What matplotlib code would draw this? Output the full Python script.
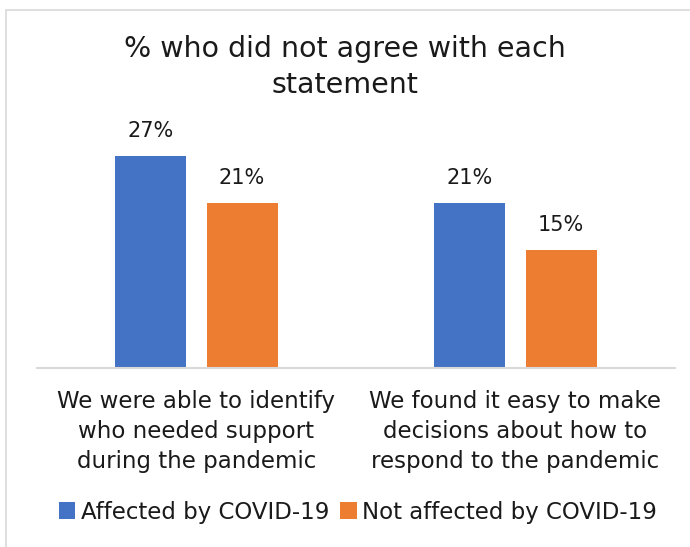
import matplotlib
matplotlib.use("Agg")
import matplotlib.pyplot as plt
from matplotlib.patches import Rectangle
import numpy as np

plt.rcParams["font.family"] = ["DejaVu Sans"]

categories = ["We were able to identify\nwho needed support\nduring the pandemic",
              "We found it easy to make\ndecisions about how to\nrespond to the pandemic"]
series_names = ["Affected by COVID-19", "Not affected by COVID-19"]
affected = [27, 21]
not_affected = [21, 15]

BLUE = "#4472C4"
ORANGE = "#ED7D31"
TXT = "#1a1a1a"

fig = plt.figure(figsize=(6.9, 5.47), dpi=100)
ax = fig.add_axes([37 / 690, 1 - 368 / 547, 638 / 690, 236 / 547])

x = np.arange(len(categories))
w = 0.223
off = 0.143
b1 = ax.bar(x - off, affected, w, color=BLUE, label=series_names[0])
b2 = ax.bar(x + off, not_affected, w, color=ORANGE, label=series_names[1])
for bars in (b1, b2):
    for r in bars:
        ax.text(r.get_x() + r.get_width() / 2, r.get_height() + 1.9,
                f"{r.get_height():.0f}%", ha="center", va="bottom",
                fontsize=15, color=TXT)

ax.set_xlim(-0.5, 1.5)
ax.set_ylim(0, 30)
ax.set_yticks([])
ax.set_xticks(x)
ax.set_xticklabels(categories, fontsize=16.5, color=TXT, linespacing=1.38)
ax.tick_params(axis="x", length=0, pad=16)
for s in ("top", "right", "left"):
    ax.spines[s].set_visible(False)
ax.spines["bottom"].set_color("#d9d9d9")
ax.spines["bottom"].set_linewidth(1.5)

fig.text(0.5, 1 - 67 / 547, "% who did not agree with each\nstatement",
         ha="center", va="center", fontsize=20.5, color=TXT, linespacing=1.4)

fig.legend(loc="center", bbox_to_anchor=(358 / 690, 1 - 512 / 547), ncol=2,
           frameon=False, fontsize=16.5, handlelength=0.7, handleheight=0.7,
           handletextpad=0.25, columnspacing=0.5, labelcolor=TXT)

# chart area border
fig.patches.append(Rectangle((6 / 690, -0.1), 1.2, 1 - 10 / 547 + 0.1,
                             transform=fig.transFigure, fill=False,
                             edgecolor="#d9d9d9", linewidth=1.2))

fig.savefig("out.png", dpi=100)
